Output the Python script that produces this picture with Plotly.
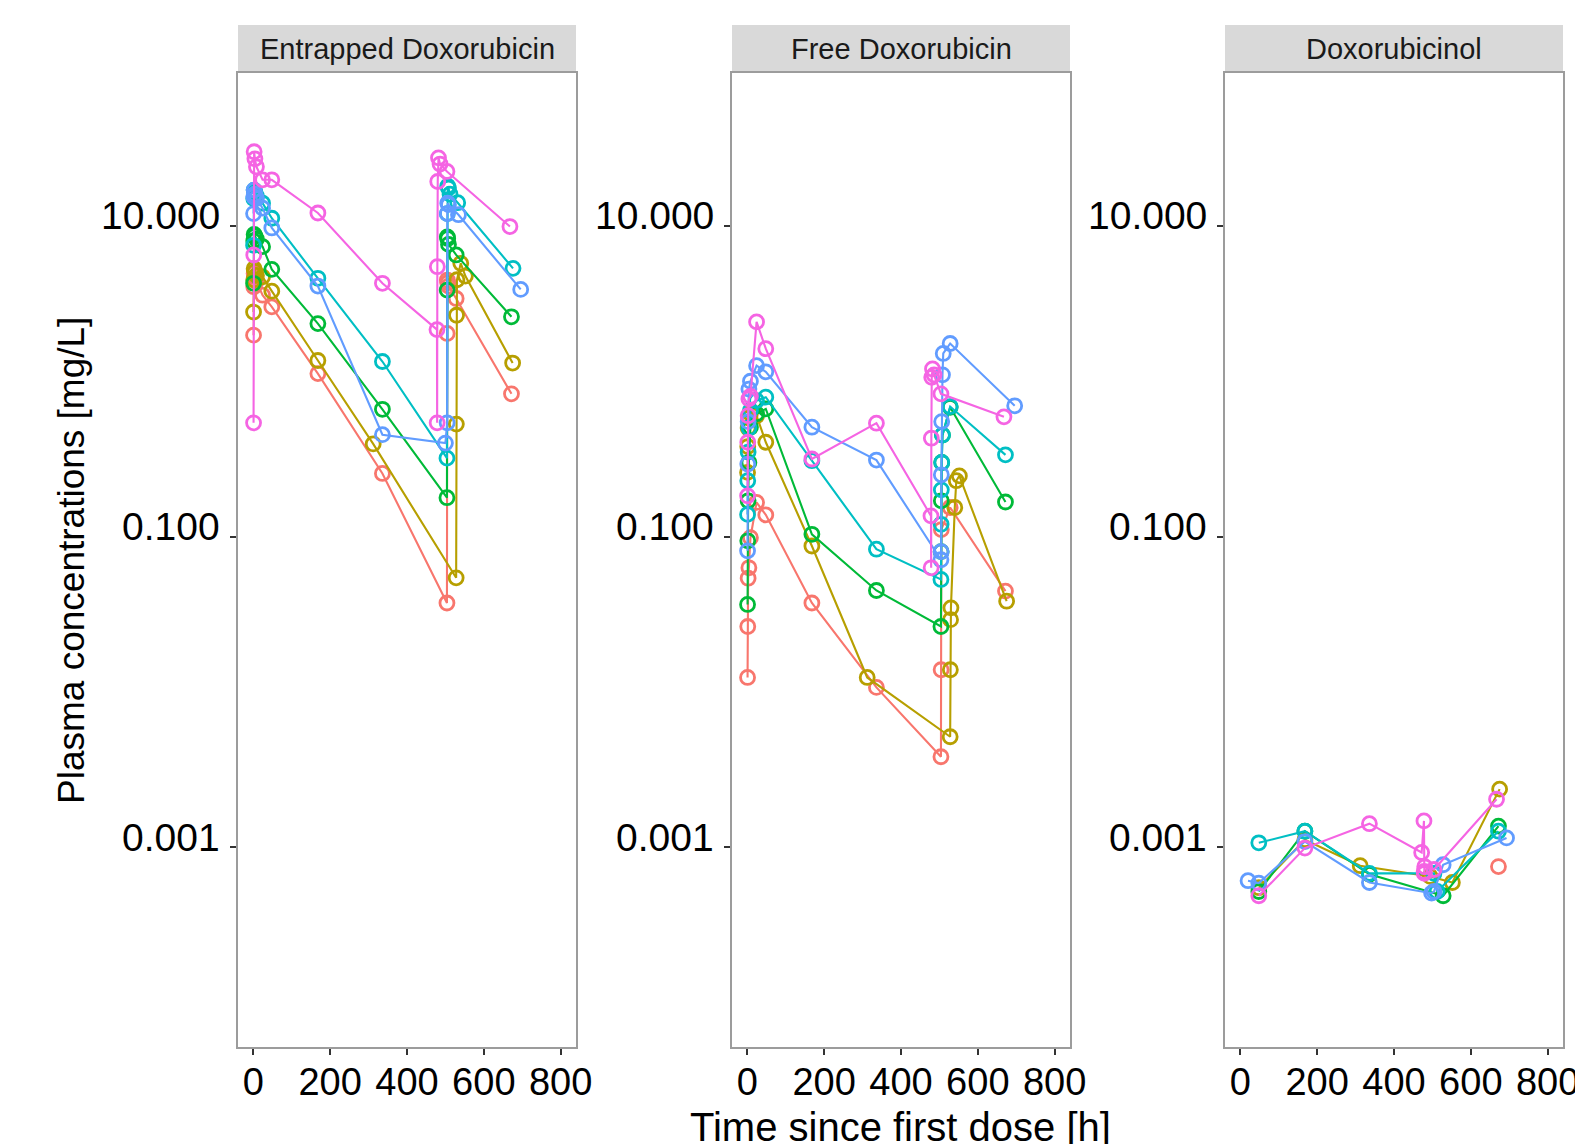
import math
import plotly.graph_objects as go

# ---------------- data ----------------
panel_titles = ["Entrapped Doxorubicin", "Free Doxorubicin", "Doxorubicinol"]
subjects = ["A", "B", "C", "D", "E", "F"]
subject_colors = ["#F8766D", "#B79F00", "#00BA38", "#00BFC4", "#619CFF", "#F564E3"]
x_ticks = [0, 200, 400, 600, 800]
y_ticks = [10, 0.1, 0.001]
y_tick_text = ["10.000", "0.100", "0.001"]

# Entrapped doxorubicin
ent_t_A = [0.5, 1, 2, 4, 8, 24, 48, 168, 336, 504, 504.5, 505, 506, 508, 528, 672]
ent_c_A = [1.98, 4.06, 4.94, 4.7, 4.4, 3.58, 3.01, 1.12, 0.255, 0.0374, 2.03, 4.48, 4.3, 4.1, 3.41, 0.83]
ent_t_B = [0.5, 1, 2, 4, 8, 24, 48, 168, 312, 528, 528.5, 529, 530, 540, 552, 675]
ent_c_B = [2.79, 4.5, 5.3, 5.1, 4.8, 4.7, 3.8, 1.36, 0.395, 0.0543, 0.53, 2.66, 4.5, 5.74, 4.75, 1.31]
ent_t_C = [0.5, 1, 2, 4, 8, 24, 48, 168, 336, 504, 504.5, 505, 506, 508, 528, 672]
ent_c_C = [4.27, 8.0, 8.8, 8.6, 8.2, 7.35, 5.25, 2.35, 0.66, 0.178, 3.86, 8.5, 8.3, 7.6, 6.5, 2.6]
ent_t_D = [0.5, 1, 2, 4, 8, 24, 48, 168, 336, 504, 505, 506, 508, 512, 532, 676]
ent_c_D = [7.5, 15, 17, 16.5, 15.5, 14, 11.2, 4.6, 1.34, 0.32, 12, 18, 17.5, 16, 14.1, 5.33]
ent_t_E = [0.5, 1, 2, 4, 8, 24, 48, 168, 336, 500, 504.5, 505, 506, 508, 534, 696]
ent_c_E = [12, 15.4, 17, 16, 15, 13, 9.7, 4.1, 0.453, 0.4, 0.54, 12, 14, 13.7, 11.8, 3.9]
ent_t_F = [0.5, 1, 2, 4, 8, 24, 48, 168, 336, 478, 478.5, 479, 480, 482, 486, 504, 668]
ent_c_F = [0.54, 6.5, 30, 27, 24, 19.8, 19.8, 12.1, 4.27, 2.15, 0.54, 5.46, 19.3, 27.4, 25, 22.4, 9.9]

# Free doxorubicin
free_t_A = [0.5, 1, 2, 4, 8, 24, 48, 168, 336, 504, 504.5, 505, 528, 672]
free_c_A = [0.0124, 0.0264, 0.054, 0.063, 0.0984, 0.166, 0.138, 0.0374, 0.0107, 0.00383, 0.0139, 0.111, 0.154, 0.0446]
free_t_B = [0.5, 1, 2, 4, 8, 24, 48, 168, 312, 528, 528.5, 529, 530, 540, 544, 552, 675]
free_c_B = [0.259, 0.38, 0.5, 0.58, 0.62, 0.6, 0.405, 0.087, 0.0124, 0.00515, 0.0139, 0.0292, 0.0348, 0.154, 0.229, 0.246, 0.0384]
free_t_C = [0.5, 1, 2, 4, 8, 24, 48, 168, 336, 504, 504.5, 505, 506, 508, 528, 672]
free_c_C = [0.0366, 0.094, 0.17, 0.3, 0.506, 0.617, 0.664, 0.1035, 0.045, 0.0264, 0.08, 0.17, 0.3, 0.45, 0.68, 0.167]
free_t_D = [0.5, 1, 2, 4, 8, 24, 48, 168, 336, 504, 504.5, 505, 506, 508, 528, 672]
free_c_D = [0.139, 0.229, 0.35, 0.5, 0.65, 0.75, 0.79, 0.308, 0.083, 0.053, 0.12, 0.2, 0.3, 0.45, 0.687, 0.336]
free_t_E = [0.5, 1, 2, 4, 8, 24, 48, 168, 336, 504, 504.5, 505, 506, 508, 510, 528, 696]
free_c_E = [0.081, 0.293, 0.55, 0.89, 1.0, 1.26, 1.15, 0.506, 0.311, 0.071, 0.08, 0.25, 0.55, 1.1, 1.51, 1.75, 0.695]
free_t_F = [0.5, 1, 2, 4, 8, 24, 48, 168, 336, 478, 478.5, 479, 480, 482, 486, 504, 668]
free_c_F = [0.183, 0.405, 0.6, 0.77, 0.8, 2.41, 1.62, 0.316, 0.537, 0.136, 0.063, 0.43, 1.06, 1.2, 1.1, 0.83, 0.59]

# Doxorubicinol
ol_t_A = [672]
ol_c_A = [0.000752]
ol_t_B = [48, 168, 312, 494, 552, 675]
ol_c_B = [0.00055, 0.00112, 0.000762, 0.00065, 0.000594, 0.00237]
ol_t_C = [48, 168, 336, 528, 672]
ol_c_C = [0.00052, 0.00127, 0.00067, 0.000488, 0.00137]
ol_t_D = [48, 168, 336, 504, 512, 672]
ol_c_D = [0.00107, 0.00127, 0.00068, 0.00068, 0.00052, 0.00127]
ol_t_E = [20, 48, 168, 336, 498, 504, 528, 693]
ol_c_E = [0.00061, 0.000589, 0.00109, 0.000594, 0.000507, 0.00052, 0.000773, 0.00115]
ol_t_F = [48, 168, 336, 472, 478, 478.5, 479, 480, 504, 667]
ol_c_F = [0.000488, 0.00099, 0.00142, 0.000927, 0.00148, 0.0007, 0.00068, 0.00075, 0.00072, 0.00204]

panels = [
    [(ent_t_A, ent_c_A), (ent_t_B, ent_c_B), (ent_t_C, ent_c_C), (ent_t_D, ent_c_D), (ent_t_E, ent_c_E), (ent_t_F, ent_c_F)],
    [(free_t_A, free_c_A), (free_t_B, free_c_B), (free_t_C, free_c_C), (free_t_D, free_c_D), (free_t_E, free_c_E), (free_t_F, free_c_F)],
    [(ol_t_A, ol_c_A), (ol_t_B, ol_c_B), (ol_t_C, ol_c_C), (ol_t_D, ol_c_D), (ol_t_E, ol_c_E), (ol_t_F, ol_c_F)],
]

# ---------------- figure ----------------
# the page body has an 8px margin, so the figure is placed 8px right/down
OFF = 8
W, H = 1575, 1136
ML, MT = 238 - OFF, 73 - OFF
MR = OFF + W - 1563
MB = OFF + H - 1047
plot_w = W - ML - MR
plot_h = H - MT - MB
domains = [[0.0, 338 / plot_w], [494 / plot_w, 832 / plot_w], [987 / plot_w, 1.0]]
strip_top = 1 + 48 / plot_h

FONT = "Arial, Liberation Sans, sans-serif"

fig = go.Figure()
for p, series in enumerate(panels):
    xa = "x" if p == 0 else f"x{p+1}"
    ya = "y" if p == 0 else f"y{p+1}"
    for s, (tt, cc) in enumerate(series):
        fig.add_trace(go.Scatter(
            x=tt, y=cc, xaxis=xa, yaxis=ya,
            mode="lines+markers",
            line=dict(color=subject_colors[s], width=2.1),
            marker=dict(symbol="circle-open", size=14, color=subject_colors[s],
                        line=dict(width=2.8, color=subject_colors[s])),
            showlegend=False, name=subjects[s],
        ))

axis_common = dict(showgrid=False, zeroline=False, ticks="outside", ticklen=6,
                   tickwidth=2.4, tickcolor="#333333", showline=True, mirror=True,
                   linecolor="#9C9C9C", linewidth=1.6, automargin=False,
                   tickfont=dict(family=FONT, size=38, color="#000000"))

layout = dict(width=W, height=H, margin=dict(l=ML, r=MR, t=MT, b=MB, autoexpand=False),
              paper_bgcolor="white", plot_bgcolor="white", showlegend=False)
for p in range(3):
    xk = "xaxis" if p == 0 else f"xaxis{p+1}"
    yk = "yaxis" if p == 0 else f"yaxis{p+1}"
    ya = "y" if p == 0 else f"y{p+1}"
    xa = "x" if p == 0 else f"x{p+1}"
    layout[xk] = dict(domain=domains[p], range=[-40, 840], tickvals=x_ticks,
                      anchor=ya, ticklabelstandoff=-5, **axis_common)
    layout[yk] = dict(domain=[0, 1], type="log", range=[-4.285, 1.984],
                      tickvals=y_ticks, showticklabels=False, anchor=xa, **axis_common)
fig.update_layout(**layout)

shapes = []
annotations = []
for p in range(3):
    ya = "y" if p == 0 else f"y{p+1}"
    shapes.append(dict(type="rect", xref="paper", yref="paper",
                       x0=domains[p][0], x1=domains[p][1], y0=1.0015, y1=strip_top,
                       fillcolor="#D9D9D9", line=dict(width=0), layer="below"))
    annotations.append(dict(xref="paper", yref="paper",
                            x=(domains[p][0] + domains[p][1]) / 2, y=(1 + strip_top) / 2,
                            text=panel_titles[p], showarrow=False,
                            xanchor="center", yanchor="middle",
                            font=dict(family=FONT, size=29, color="#1A1A1A")))
    # y tick labels (placed slightly above their ticks, as in the reference)
    for v, lab in zip(y_ticks, y_tick_text):
        annotations.append(dict(xref="paper", yref=ya, x=domains[p][0], y=math.log10(v),
                                text=lab, showarrow=False, xanchor="right", yanchor="middle",
                                xshift=-16, yshift=10,
                                font=dict(family=FONT, size=39, color="#000000")))

annotations.append(dict(xref="paper", yref="paper", x=(71 - 238) / plot_w, y=0.5,
                        text="Plasma concentrations [mg/L]", textangle=-90,
                        showarrow=False, xanchor="center", yanchor="middle",
                        font=dict(family=FONT, size=37, color="#000000")))
annotations.append(dict(xref="paper", yref="paper", x=0.5, y=-(1127 - 1047) / plot_h,
                        text="Time since first dose [h]", showarrow=False,
                        xanchor="center", yanchor="middle",
                        font=dict(family=FONT, size=40, color="#000000")))
fig.update_layout(shapes=shapes, annotations=annotations)

fig.write_html("out.html")
